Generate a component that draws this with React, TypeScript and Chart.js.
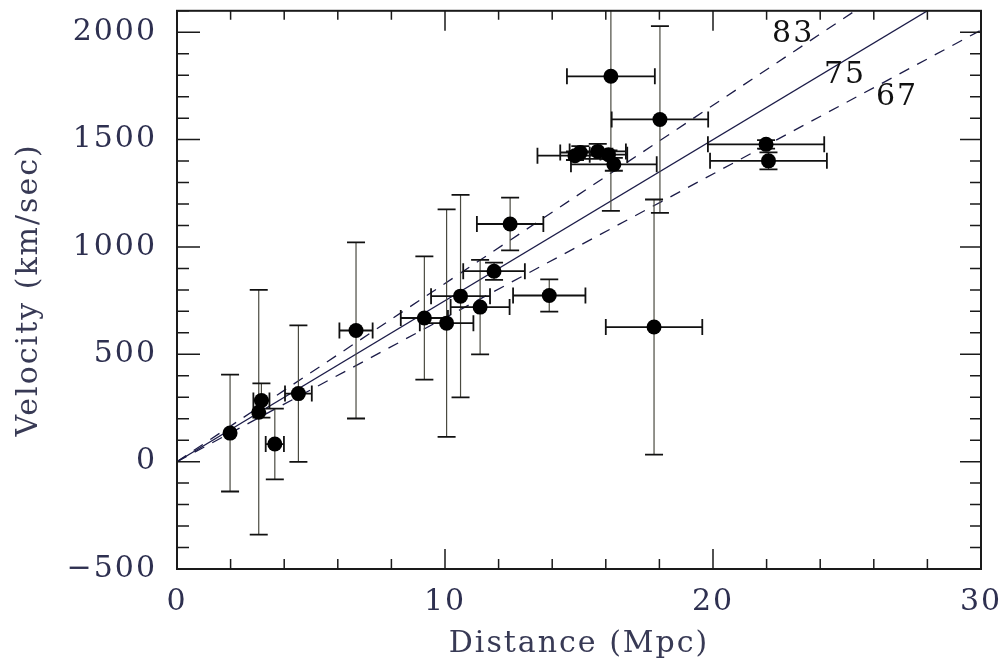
import { useEffect, useRef } from 'react';
import { Chart, registerables } from 'chart.js';

Chart.register(...registerables);

// Galaxy data: distance (Mpc), velocity (km/s), errors
const DIST = [1.98, 3.15, 3.05, 3.65, 4.53, 6.68, 9.23, 10.06, 10.58, 11.31, 11.83, 12.43, 13.89, 14.85, 15.05, 15.7, 16.1, 16.3, 16.19, 18.02, 21.98, 22.07, 17.8];
const VEL = [133, 285, 230, 82, 317, 611, 669, 645, 771, 720, 887, 1107, 774, 1425, 1440, 1445, 1430, 1385, 1795, 1594, 1478, 1401, 627];
const DIST_ERR = [0, 0.3, 0, 0.34, 0.5, 0.62, 0.88, 1.0, 1.1, 1.1, 1.15, 1.24, 1.35, 1.4, 0.75, 1.05, 0.7, 1.6, 1.64, 1.8, 2.17, 2.18, 1.8];
const VEL_ERR = [272, 80, 570, 165, 318, 410, 287, 530, 472, 220, 40, 123, 75, 20, 30, 35, 20, 30, 627, 435, 20, 40, 594];

// Hubble-law lines
const H0_VALUES = [83, 75, 67];
const H0_DASHED = [true, false, true];
const H0_LABEL_X = [22.99, 24.93, 26.87];
const H0_LABEL_Y = [1990, 1800, 1698];

// Axes
const X_MIN = 0, X_MAX = 30, X_STEP = 2, X_MAJOR = 10;
const Y_MIN = -500, Y_MAX = 2100, Y_STEP = 100, Y_MAJOR = 500;

const FONT = { family: "'DejaVu Serif', serif", size: 30 };
const TICK_COLOR = '#2e3050';
const TITLE_COLOR = '#383a55';

function range(a: number, b: number, s: number) {
  const out: number[] = [];
  for (let v = a; v <= b + 1e-9; v += s) out.push(Math.round(v * 1000) / 1000);
  return out;
}

const framePlugin = {
  id: 'frame',
  beforeDraw(chart: any) {
    try { chart.ctx.letterSpacing = '2px'; } catch (e) { /* ignore */ }
  },
  afterDatasetsDraw(chart: any) {
    const ctx = chart.ctx;
    const xs = chart.scales.x, ys = chart.scales.y;
    ctx.save();
    ctx.font = `30px ${FONT.family}`;
    ctx.fillStyle = '#111';
    ctx.textAlign = 'center';
    ctx.textBaseline = 'middle';
    H0_VALUES.forEach((h, i) => {
      ctx.fillText(String(h), xs.getPixelForValue(H0_LABEL_X[i]), ys.getPixelForValue(H0_LABEL_Y[i]));
    });
    ctx.restore();
  },
  afterDraw(chart: any) {
    const ctx = chart.ctx;
    const { left, right, top, bottom } = chart.chartArea;
    const xs = chart.scales.x, ys = chart.scales.y;
    ctx.save();
    ctx.strokeStyle = '#1a1a1a';
    ctx.lineWidth = 1.5;
    ctx.beginPath();
    xs.ticks.forEach((t: any) => {
      const p = xs.getPixelForValue(t.value);
      const major = Math.abs(t.value % X_MAJOR) < 1e-6;
      const lenB = major ? 20 : 10;
      const lenT = major ? 20 : 9;
      ctx.moveTo(p, bottom); ctx.lineTo(p, bottom - lenB);
      ctx.moveTo(p, top); ctx.lineTo(p, top + lenT);
    });
    ys.ticks.forEach((t: any) => {
      const p = ys.getPixelForValue(t.value);
      const major = Math.abs(t.value % Y_MAJOR) < 1e-6;
      const lenL = major ? 23 : 12;
      const lenR = major ? 21 : 11;
      ctx.moveTo(left, p); ctx.lineTo(left + lenL, p);
      ctx.moveTo(right, p); ctx.lineTo(right - lenR, p);
    });
    ctx.stroke();
    ctx.lineWidth = 2;
    ctx.strokeRect(left, top, right - left, bottom - top);
    ctx.restore();
  },
};

export default function App() {
  const ref = useRef<HTMLCanvasElement>(null);
  useEffect(() => {
    const points = DIST.map((x, i) => ({ x, y: VEL[i] }));
    const vBars: any[] = [];
    const hBars: any[] = [];
    DIST.forEach((x, i) => {
      if (VEL_ERR[i] > 0) {
        vBars.push({ x, y: VEL[i] - VEL_ERR[i] }, { x, y: VEL[i] + VEL_ERR[i] }, { x, y: null });
      }
      if (DIST_ERR[i] > 0) {
        hBars.push({ x: x - DIST_ERR[i], y: VEL[i] }, { x: x + DIST_ERR[i], y: VEL[i] }, { x: null, y: null });
      }
    });
    const lineSets = H0_VALUES.map((h, i) => ({
      label: `H0=${h}`,
      data: [{ x: X_MIN, y: 0 }, { x: X_MAX, y: X_MAX * h }],
      showLine: true,
      borderColor: '#1c1c48',
      borderWidth: 1.3,
      borderDash: H0_DASHED[i] ? [11, 9] : [],
      pointRadius: 0,
      clip: 0,
      order: 5,
    }));

    const chart = new Chart(ref.current!, {
      type: 'line',
      data: {
        datasets: [
          {
            label: 'galaxies',
            data: points,
            showLine: false,
            pointRadius: 7.5,
            pointBackgroundColor: '#000',
            pointBorderColor: '#000',
            pointBorderWidth: 0,
            clip: 0,
            order: 0,
          },
          {
            label: 'xerr',
            data: hBars,
            showLine: true,
            spanGaps: false,
            borderColor: '#111',
            borderWidth: 1.8,
            pointStyle: 'line',
            pointRotation: 90,
            pointRadius: 8,
            pointBorderWidth: 1.8,
            pointBorderColor: '#111',
            clip: 0,
            order: 1,
          },
          {
            label: 'yerr',
            data: vBars,
            showLine: true,
            spanGaps: false,
            borderColor: '#4a4a40',
            borderWidth: 1.2,
            pointStyle: 'line',
            pointRotation: 0,
            pointRadius: 9,
            pointBorderWidth: 1.8,
            pointBorderColor: '#111',
            clip: 0,
            order: 2,
          },
          ...lineSets,
        ] as any,
      },
      options: {
        responsive: false,
        animation: false,
        events: [],
        layout: { padding: { left: 0, top: 9, right: 27, bottom: 0 } },
        plugins: { legend: { display: false }, tooltip: { enabled: false } },
        scales: {
          x: {
            type: 'linear',
            min: X_MIN,
            max: X_MAX,
            grid: { display: false },
            border: { display: false },
            afterBuildTicks: (s: any) => { s.ticks = range(X_MIN, X_MAX, X_STEP).map((v) => ({ value: v })); },
            afterFit: (s: any) => { s.height = 97; s.paddingLeft = 0; s.paddingRight = 0; },
            ticks: {
              autoSkip: false,
              maxRotation: 0,
              padding: 7,
              font: FONT,
              color: TICK_COLOR,
              callback: (v: any) => (Math.abs(Number(v) % X_MAJOR) < 1e-6 ? String(v) : ''),
            },
            title: {
              display: true,
              text: 'Distance (Mpc)',
              font: FONT,
              color: TITLE_COLOR,
              padding: { top: 0, bottom: 4 },
            },
          },
          y: {
            type: 'linear',
            min: Y_MIN,
            max: Y_MAX,
            grid: { display: false },
            border: { display: false },
            afterBuildTicks: (s: any) => { s.ticks = range(Y_MIN, Y_MAX, Y_STEP).map((v) => ({ value: v })); },
            afterFit: (s: any) => { s.width = 177; s.paddingTop = 0; s.paddingBottom = 0; },
            ticks: {
              autoSkip: false,
              padding: 12,
              font: FONT,
              color: TICK_COLOR,
              callback: (v: any) => {
                const n = Number(v);
                if (Math.abs(n % Y_MAJOR) > 1e-6) return '';
                return n < 0 ? '\u2212' + String(-n) : String(n);
              },
            },
            title: {
              display: true,
              text: 'Velocity (km/sec)',
              font: FONT,
              color: TITLE_COLOR,
              padding: { top: 11, bottom: 0 },
            },
          },
        },
      },
      plugins: [framePlugin],
    } as any);
    return () => chart.destroy();
  }, []);

  return (
    <div style={{ position: 'absolute', left: 0, top: 0, width: 1008, height: 666, background: '#fff' }}>
      <canvas ref={ref} width={1008} height={666} style={{ display: 'block' }} />
    </div>
  );
}
